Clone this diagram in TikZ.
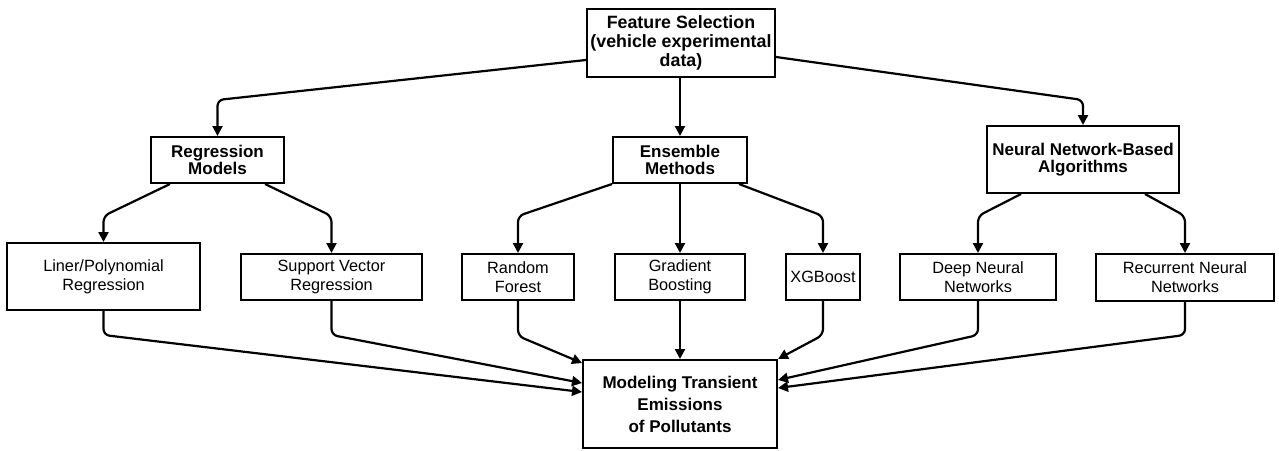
\documentclass[tikz,border=0pt]{standalone}
\usepackage{fontspec}
\setmainfont{Liberation Sans}
\usetikzlibrary{arrows.meta}

\tikzset{
  box/.style={draw, line width=2pt, fill=white, inner sep=0pt, align=center, anchor=center},
  headbox/.style={box, font=\bfseries\fontsize{17}{17.5}\selectfont},
  leafbox/.style={box, font=\fontsize{16.3}{19}\selectfont},
  link/.style={line width=2.2pt, rounded corners=6pt,
    -{Triangle[length=10pt, width=10pt]}},
}

\begin{document}
\begin{tikzpicture}[x=1pt, y=-1pt]
\useasboundingbox (0,0) rectangle (1279,450);

% top: feature selection
\node[headbox, font=\bfseries\fontsize{17.8}{18.8}\selectfont,
      minimum width=188pt, minimum height=68pt] (fs) at (681,43)
  {Feature Selection\\(vehicle experimental\\data)};

% model families
\node[headbox, minimum width=133pt, minimum height=46pt] (rm) at (217.5,160) {Regression\\Models};
\node[headbox, minimum width=134pt, minimum height=46pt] (em) at (680,160) {Ensemble\\Methods};
\node[headbox, minimum width=192pt, minimum height=67pt] (nn) at (1083,159.5) {Neural Network-Based\\Algorithms};

% individual models
\node[leafbox, minimum width=193pt, minimum height=67pt] (lp) at (103.5,276.5) {Liner/Polynomial\\Regression};
\node[leafbox, minimum width=181pt, minimum height=46pt] (sv) at (331.5,277) {Support Vector\\Regression};
\node[leafbox, minimum width=112pt, minimum height=46pt] (rf) at (518,277) {Random\\Forest};
\node[leafbox, minimum width=130pt, minimum height=46pt] (gb) at (680,277) {Gradient\\Boosting};
\node[leafbox, minimum width=74pt, minimum height=46pt] (xg) at (823,277) {XGBoost};
\node[leafbox, minimum width=156pt, minimum height=46pt] (dn) at (978,277) {Deep Neural\\Networks};
\node[leafbox, minimum width=178pt, minimum height=47pt] (rn) at (1185,277.5) {Recurrent Neural\\Networks};

% outcome
\node[headbox, font=\bfseries\fontsize{17}{22}\selectfont,
      minimum width=194pt, minimum height=88pt] (mt) at (680,404)
  {Modeling Transient\\Emissions\\of Pollutants};

% feature selection -> families
\draw[link] ([yshift=-17pt]fs.west) -- (rm.north |- 0,100) -- (rm.north);
\draw[link] (em.north |- fs.south) -- (em.north);
\draw[link] ([yshift=-14pt]fs.east) -- (nn.north |- 0,100) -- (nn.north);

% families -> models
\draw[link] ([xshift=20pt]rm.south west) -- (lp.north |- 0,216) -- (lp.north);
\draw[link] ([xshift=-20pt]rm.south east) -- (sv.north |- 0,216) -- (sv.north);
\draw[link] (em.south west) -- (rf.north |- 0,216) -- (rf.north);
\draw[link] (em.south) -- (gb.north);
\draw[link] ([xshift=-9pt]em.south east) -- (xg.north |- 0,216) -- (xg.north);
\draw[link] ([xshift=35pt]nn.south west) -- (dn.north |- 0,216) -- (dn.north);
\draw[link] ([xshift=-35pt]nn.south east) -- (rn.north |- 0,216) -- (rn.north);

% models -> outcome
\draw[link] (lp.south) -- (lp.south |- 0,335) -- ([yshift=12pt]mt.west);
\draw[link] (sv.south) -- (sv.south |- 0,335) -- ([yshift=21pt]mt.west);
\draw[link] (rf.south) -- (rf.south |- 0,336) -- ([yshift=41pt]mt.west);
\draw[link] (gb.south) -- (mt.north);
\draw[link] (xg.south) -- (xg.south |- 0,335) -- (mt.north east);
\draw[link] (dn.south) -- (dn.south |- 0,335) -- ([yshift=24pt]mt.east);
\draw[link] (rn.south) -- (rn.south |- 0,335) -- ([yshift=16pt]mt.east);
\end{tikzpicture}
\end{document}
